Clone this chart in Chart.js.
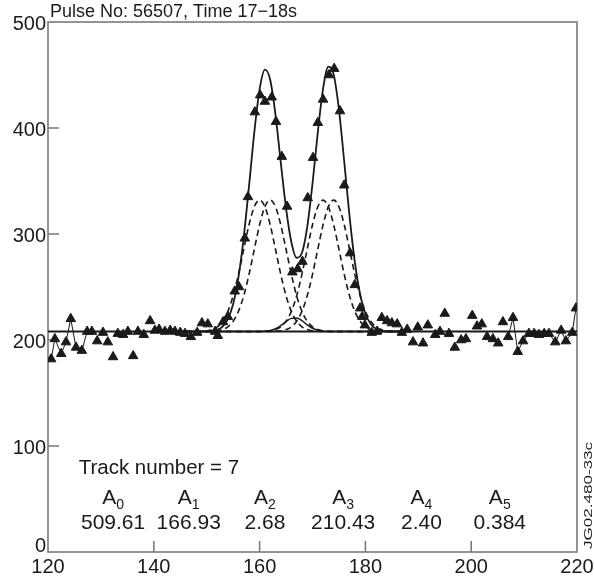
<!DOCTYPE html>
<html><head><meta charset="utf-8">
<script src="https://cdn.jsdelivr.net/npm/chart.js@4"></script>
<style>html,body{margin:0;padding:0;background:#fff}#wrap{width:594px;height:581px;position:relative}</style>
</head><body><div id="wrap"><canvas id="c" width="594" height="581"></canvas></div>
<script>
// ---- data ----
const titleText = "Pulse No: 56507, Time 17\u221218s";
const trackText = "Track number = 7";
const sideText = "JG02.480-33c";
const coefNames = ["0","1","2","3","4","5"];
const coefValues = ["509.61","166.93","2.68","210.43","2.40","0.384"];
const xTickValues = [120,140,160,180,200,220];
const yTickValues = [0,100,200,300,400,500];

const measX = [128.3,129.3,130.4,131.3,132.3,133.2,134.2,135.1,136.1,137.0,138.1,139.3,140.2,141.0,142.1,143.1,144.0,145.0,145.9,147.0,148.2,149.1,150.2,151.6,152.1,153.1,154.0,155.3,156.1,157.2,157.8,159.1,160.1,161.0,162.3,163.1,164.2,165.2,166.2,167.2,168.1,169.1,170.1,171.0,172.0,173.1,174.1,175.2,176.0,177.1,178.0,179.0,179.4,179.9,181.2,182.2,183.1,184.1,185.0,186.0,186.9,187.9,189.0,189.9,190.9,191.8,193.2,194.1,195.0,195.8,196.9,198.1,199.0,200.2,201.1,202.0,203.0,204.1,205.1,206.0];
const measY = [208,199,207,198,184,206,205,208,185,208,205,218,209,210,208,209,208,207,206,203,207,216,215,208,204,217,222,246,250,296,335,415,431,425,429,406,373,326,264,267,274,334,372,405,427,450,456,416,346,282,252,230,222,214,207,208,221,218,216,215,207,210,198,212,197,214,205,208,225,206,193,200,201,223,213,215,203,201,197,217];

const leftTraceX = [120.6,121.3,122.5,123.4,124.3,125.3,126.4,127.4];
const leftTraceY = [182,201,187,198,220,193,190,208];
const rightTraceX = [207.0,207.9,208.8,209.8,210.9,211.9,212.8,213.8,214.7,215.9,217.0,217.9,219.1,219.8];
const rightTraceY = [203,221,189,199,206,206,205,206,206,198,209,199,207,230];

const baselineX = [120,220];
const baselineY = [208,208];

const fitX = [146,147,148,149,150,151,152,153,154,155,156,157,158,159,160,161,162,163,164,165,166,167,168,169,170,171,172,173,174,175,176,177,178,179,180,181,182,183,184,185,186,187,188];
const fitTotal = [208,208,208,208,208.1,208.5,209.7,212.7,219.8,234.0,259.1,296.9,345.1,395.9,436.4,455.0,445.5,412.7,367.5,324.2,292.5,277.6,282.1,306.4,347.6,395.7,437.1,457.9,450.6,417.3,368.2,316.9,273.8,243.2,224.7,215.0,210.6,208.7,208.2,208,208,208,208];
const fitL1 = [208,208,208,208.2,208.7,209.8,212.4,217.7,227.0,241.7,261.9,285.6,308.7,325.7,332.0,325.7,308.7,285.6,261.9,241.7,227.0,217.7,212.4,209.8,208.7,208.2,208,208,208,208,208,208,208,208,208,208,208,208,208,208,208,208,208];
const fitL2 = [208,208,208,208,208,208.2,208.7,209.8,212.4,217.7,227.0,241.7,261.9,285.6,308.7,325.7,332.0,325.7,308.7,285.6,261.9,241.7,227.0,217.7,212.4,209.8,208.7,208.2,208,208,208,208,208,208,208,208,208,208,208,208,208,208,208];
const fitR1 = [208,208,208,208,208,208,208,208,208,208,208,208,208,208,208,208.2,208.7,209.8,212.4,217.7,227.0,241.7,261.9,285.6,308.7,325.7,332.0,325.7,308.7,285.6,261.9,241.7,227.0,217.7,212.4,209.8,208.7,208.2,208,208,208,208,208];
const fitR2 = [208,208,208,208,208,208,208,208,208,208,208,208,208,208,208,208,208,208.2,208.7,209.8,212.4,217.7,227.0,241.7,261.9,285.6,308.7,325.7,332.0,325.7,308.7,285.6,261.9,241.7,227.0,217.7,212.4,209.8,208.7,208.2,208,208,208];
const fitBump = [208,208,208,208,208,208,208,208,208,208,208,208,208,208,208,208.3,208.9,210.6,213.6,217.4,220.4,220.7,218.2,214.3,211.1,209.2,208.3,208,208,208,208,208,208,208,208,208,208,208,208,208,208,208,208];

// ---- helpers ----
const FONT = '"Liberation Sans", Arial, Helvetica, sans-serif';
const ink = '#1a1a1a';
const axisColor = '#7a7a7a';
const pts = (xs, ys) => xs.map((x, i) => ({x, y: ys[i]}));

function fitLine(ys, dashed, width) {
  return {
    type: 'line', data: pts(fitX, ys), borderColor: ink, borderWidth: width,
    borderDash: dashed ? [6, 4] : [], pointRadius: 0, fill: false,
    cubicInterpolationMode: 'monotone'
  };
}

const frame = {
  id: 'frame',
  beforeDatasetsDraw(chart) {
    const {ctx, chartArea: a, scales: {x, y}} = chart;
    ctx.save();
    ctx.strokeStyle = axisColor; ctx.lineWidth = 1.6;
    ctx.strokeRect(a.left, a.top, a.right - a.left, a.bottom - a.top);
    ctx.beginPath();
    yTickValues.slice(1, -1).forEach(v => {
      const p = y.getPixelForValue(v);
      ctx.moveTo(a.left, p); ctx.lineTo(a.left + 11, p);
    });
    xTickValues.slice(1, -1).forEach(v => {
      const p = x.getPixelForValue(v);
      ctx.moveTo(p, a.bottom); ctx.lineTo(p, a.bottom - 11);
    });
    ctx.stroke();
    ctx.restore();
  },
  afterDraw(chart) {
    const {ctx, chartArea: a, scales: {x, y}} = chart;
    ctx.save();
    ctx.fillStyle = ink;
    ctx.textBaseline = 'alphabetic';
    ctx.textAlign = 'left';
    ctx.font = '18px ' + FONT;
    ctx.fillText(titleText, a.left + 2, 17);

    ctx.font = '20.5px ' + FONT;
    ctx.fillText(trackText, x.getPixelForValue(125.8), y.getPixelForValue(73.6));

    const colX = [132.3, 146.6, 161.0, 175.8, 190.6, 205.4];
    colX.forEach((cx, i) => {
      const px = x.getPixelForValue(cx);
      ctx.font = '21px ' + FONT;
      const w1 = ctx.measureText('A').width;
      ctx.font = '14px ' + FONT;
      const w2 = ctx.measureText(coefNames[i]).width;
      const x0 = px - (w1 + w2) / 2;
      const by = y.getPixelForValue(45.3);
      ctx.font = '21px ' + FONT;
      ctx.fillText('A', x0, by);
      ctx.font = '14px ' + FONT;
      ctx.fillText(coefNames[i], x0 + w1, by + 5);
      ctx.font = '21px ' + FONT;
      ctx.textAlign = 'center';
      ctx.fillText(coefValues[i], px, y.getPixelForValue(21.7));
      ctx.textAlign = 'left';
    });

    ctx.font = '11px ' + FONT;
    ctx.translate(592, 549);
    ctx.rotate(-Math.PI / 2);
    ctx.scale(1.55, 1);
    ctx.fillText(sideText, 0, 0);
    ctx.restore();
  }
};

new Chart(document.getElementById('c'), {
  type: 'scatter',
  data: {
    datasets: [
      {data: pts(measX, measY), pointStyle: 'triangle', pointRadius: 5.5,
       backgroundColor: ink, borderColor: ink, borderWidth: 1, showLine: false},
      {type: 'line', data: pts(leftTraceX, leftTraceY), pointStyle: 'triangle', pointRadius: 5.5,
       backgroundColor: ink, pointBorderColor: ink, borderColor: ink, borderWidth: 1, tension: 0},
      {type: 'line', data: pts(rightTraceX, rightTraceY), pointStyle: 'triangle', pointRadius: 5.5,
       backgroundColor: ink, pointBorderColor: ink, borderColor: ink, borderWidth: 1, tension: 0},
      fitLine(fitTotal, false, 1.8),
      fitLine(fitBump, false, 1.5),
      fitLine(fitL1, true, 1.6),
      fitLine(fitL2, true, 1.6),
      fitLine(fitR1, true, 1.6),
      fitLine(fitR2, true, 1.6),
      {type: 'line', data: pts(baselineX, baselineY), borderColor: ink, borderWidth: 2.2, pointRadius: 0}
    ]
  },
  options: {
    responsive: false, animation: false, devicePixelRatio: 1,
    layout: {padding: {top: 22, right: 17, left: 0, bottom: 0}},
    plugins: {legend: {display: false}, tooltip: {enabled: false}, title: {display: false}},
    scales: {
      x: {
        type: 'linear', min: 120, max: 220,
        afterBuildTicks: s => { s.ticks = xTickValues.map(v => ({value: v})); },
        ticks: {color: ink, font: {family: FONT, size: 20}, padding: 3, maxRotation: 0, autoSkip: false},
        grid: {display: false, drawTicks: false}, border: {display: false},
        afterFit: s => { s.height = 29; s.paddingLeft = 0; s.paddingRight = 0; }
      },
      y: {
        type: 'linear', min: 0, max: 500,
        afterBuildTicks: s => { s.ticks = yTickValues.map(v => ({value: v})); },
        ticks: {color: ink, font: {family: FONT, size: 20, lineHeight: 0.75}, padding: 2, autoSkip: false,
                labelOffset: 2,
                callback: v => (v === 0 ? ['0', ''] : String(v))},
        grid: {display: false, drawTicks: false}, border: {display: false},
        afterFit: s => { s.width = 48; s.paddingTop = 0; s.paddingBottom = 0; }
      }
    }
  },
  plugins: [frame]
});
</script>
</body></html>
